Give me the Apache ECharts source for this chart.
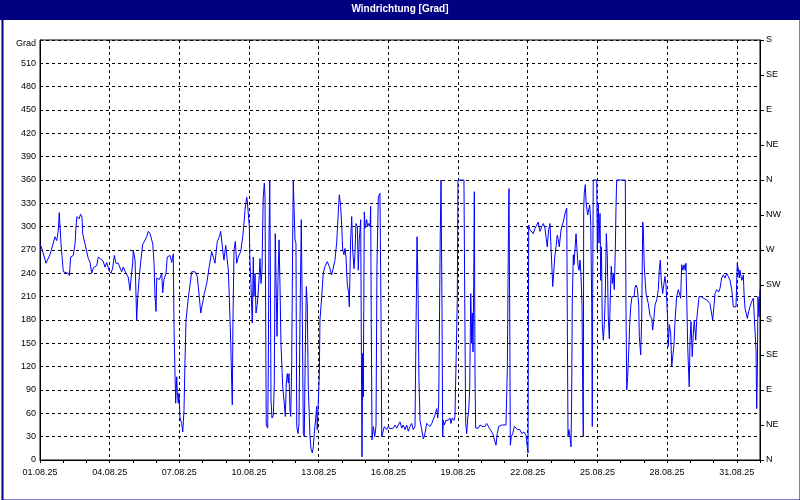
<!DOCTYPE html>
<html>
<head>
<meta charset="utf-8">
<script src="https://cdn.jsdelivr.net/npm/echarts@6/dist/echarts.min.js"></script>
<style>
html,body{margin:0;padding:0;background:#fff;}
#chart{width:800px;height:500px;}
</style>
</head>
<body>
<div id="chart"></div>
<script>
// Hours since 01.08.25 00:00
const hours = [
0,2.4,6.2,10.3,13.7,15.5,17.3,18.9,19.9,20.7,
21.7,22.7,24.1,29.2,30.3,31.7,34.4,36.2,37.2,38.2,
40.3,41.9,43.4,44.1,46.5,49.9,51.7,53.4,55.1,58.6,
60.2,62,65.1,67.2,68.9,71.6,73.4,75.1,76.8,78.5,
80.9,82.7,84.4,86.1,88.9,91.2,93,94,95.8,96.4,
98.2,99.2,99.9,101,102.6,104.1,106.1,110.3,111.9,113.7,
116.5,117.8,118.8,119.9,120.6,123.3,125.8,126.8,128.1,130.2,
131.5,134.3,136.1,137.7,138.5,139.5,140.2,141.3,141.9,142.9,
143.6,144.7,146.4,147.5,148.8,149.8,150.9,153.2,155,156.8,
160.2,162.5,164.6,166.1,167.4,169.8,172.3,174.9,177.4,179.1,
180.8,183.2,185.3,186.7,188.8,190.1,191.9,194.6,195.6,197.1,
198.1,198.7,199.4,200.5,201.8,203.3,204.9,207.4,209.5,211.1,
211.8,213.6,214.2,216.3,217,218,218.8,219.4,220.4,221.1,
222.2,223.2,224.5,226.3,227.3,228.4,229.4,230.1,230.7,231.8,
232.5,233.2,233.8,235.3,235.9,236.6,237.4,238,238.7,239.7,
241.1,242.1,243.1,244.2,244.9,245.9,247,248,249,250.1,
250.8,252.4,253.5,254.5,255.5,256.6,257.3,258.3,259.1,260.1,
261.1,261.7,262.8,263.5,264.5,265.3,266.6,267.6,268.7,270,
271,272.1,273.1,274.1,275.2,276.2,277.2,278.3,279,280,
281.4,282.4,283.4,284.9,285.9,286.5,288,288.6,289.3,291.1,
292.7,294.5,296.9,298.9,301.4,303.1,304.8,306.6,308.2,309.3,
310.7,311.8,312.8,314.1,315.2,316.2,317.5,319,319.6,321,
322.1,323.1,324.5,325.5,326.5,327.9,328.9,329.9,331.4,332,
332.7,333.5,334.1,335.1,336.1,337.6,338.6,339.7,341,341.7,
342.3,343.1,344.4,345.9,347.2,348.2,349.6,351.3,352.4,353.1,
354.7,355.8,358.2,359.9,361.7,363.4,365.1,366.8,368.6,370.2,
372,373.8,375.4,377.2,378.9,380.6,382.3,384.1,385.7,387.5,
388.5,389.6,390.6,391.6,392.7,394.4,396.1,397.8,399.6,401.2,
403,404.8,406.4,408.2,409.9,411,412,412.6,413.6,414.4,
415.1,415.4,416.1,416.7,417.8,419.5,421.9,423.7,424.7,426,
427.8,428.8,430.6,431.2,431.9,438.1,438.9,439.9,440.9,442,
443,444,445.1,446.1,446.7,447.4,448.2,448.8,449.5,450.2,
452.9,454.7,456.4,457.5,459.8,461.6,463.2,464.3,465.7,467.8,
469.4,471.2,472.5,474,475.3,477.1,478.7,481.5,482.9,483.9,
484.6,485.4,486,487,488.5,490.1,491.9,493.6,496,497.8,
500.1,502.2,503.5,504.3,505,506.3,508.1,509.7,511.5,513.3,
514.9,515.9,516.7,518.4,520.1,521.8,522.9,524.2,525.6,527,
528,529.1,529.8,530.8,531.9,533.2,534.5,535.6,536.6,538.1,
539.1,540.7,542.5,544.3,544.9,545.6,546.6,547.7,548.7,549.4,
550,551.1,551.8,552.8,553.9,554.9,555.9,557,558,559,
560.1,560.8,561.4,561.8,562.4,563.5,564.2,565.2,565.9,567,
568,569.1,570.1,570.4,570.7,571.1,571.7,575.3,575.9,576.9,
577.6,578.7,579.4,580.2,581,582.1,583.1,584.1,585.2,586.2,
587.2,588.3,589.3,590.3,591.4,592.4,593.4,594.5,595.2,595.9,
604.8,605.5,606.3,607.3,608.3,609.4,610.4,611.7,613.8,614.8,
615.9,617.2,618.7,619.3,620.7,621.8,622.8,623.4,624.4,626.2,
628.6,630.3,632.1,633.1,634.5,635.5,637.3,638.9,639.9,641,
642,643.4,644.8,645.8,646.9,647.9,648.6,649.2,650.3,651.7,
652.8,654.4,655.1,656.2,657.9,659.6,661.3,662,663.1,664.4,
665.5,666.8,667.5,668.3,669.3,670.3,670.9,671.7,672.7,674,
675.1,676.1,677.6,678.6,679.6,681,682,683.3,685.4,687.2,
688.9,690.6,692.3,694.1,695.1,696.5,697.5,699.2,701.3,702.7,
704.4,706.1,707.8,709.6,711.2,713,714.8,715.8,716.4,717.4,
719.2,720.5,721.6,722.6,723.3,725.1,726.1,726.8,727.5,728.5,
729.5,730.9,732.3,733.7,735.4,737.1,738.1,739.1,739.9,740.6,
741.2,741.9,743,744
];
// Wind direction in degrees
const direction = [
278,270,253,264,279,287,282,295,318,300,
278,263,242,240,237,261,263,278,300,313,
310,316,312,291,278,259,254,240,247,250,
261,263,256,248,254,243,240,247,263,253,
253,247,242,248,240,235,218,232,253,270,
257,255,180,210,236,255,277,287,294,291,
278,254,212,191,234,232,240,215,232,240,
261,263,254,265,169,111,73,107,86,73,
86,54,47,36,64,126,180,208,225,242,
242,236,210,189,191,214,227,249,268,261,
253,281,287,294,270,257,276,244,210,150,
99,71,180,270,281,253,261,268,287,309,
321,338,333,300,253,227,193,176,261,210,
240,189,200,231,259,227,244,300,338,356,
338,189,45,41,116,281,360,253,77,54,
57,99,291,210,159,231,283,223,150,116,
94,73,56,99,111,99,111,64,56,124,
283,360,360,283,279,43,34,47,184,309,
193,34,30,137,223,201,94,56,30,15,
9,17,34,54,69,39,39,107,180,210,
240,249,255,249,238,240,257,280,317,341,
326,300,270,264,272,261,227,214,197,283,
313,270,246,266,304,300,244,283,309,163,
4,137,81,319,298,309,300,304,300,326,
174,26,43,30,44,249,338,343,184,30,
30,43,39,43,40,41,41,45,41,43,
49,41,45,39,45,37,43,47,39,43,
163,287,223,103,51,51,27,34,47,49,
43,47,45,58,66,54,73,154,291,360,
360,193,30,51,45,51,51,54,47,54,
51,56,54,206,360,360,206,47,34,54,
64,90,214,150,189,139,227,345,111,41,
41,45,47,43,43,47,47,41,43,34,
34,19,34,43,43,45,44,45,116,270,
349,184,19,30,34,43,41,39,39,34,
36,32,17,9,302,296,298,291,298,302,
306,298,294,300,304,298,287,274,296,304,
274,244,223,240,261,274,289,283,274,293,
300,306,317,324,178,30,39,30,17,81,
201,264,251,270,291,270,251,244,257,240,
197,88,30,321,343,354,332,332,315,315,
328,306,201,114,43,214,360,360,270,330,
279,317,231,274,176,154,174,210,291,263,
184,156,208,249,227,240,219,270,326,360,
360,201,90,107,139,176,197,210,210,221,
225,221,199,159,135,184,306,298,249,214,
201,186,182,167,184,199,206,219,244,257,
231,214,227,236,225,227,180,146,174,163,
120,120,148,180,210,219,219,208,251,244,
251,244,253,208,146,111,94,154,178,133,
163,180,154,180,193,210,212,210,208,206,
206,206,201,199,180,199,214,219,216,221,
234,238,234,240,236,231,219,206,197,195,
197,253,246,234,244,231,234,238,214,195,
195,182,191,197,204,208,206,210,141,66,
107,210,184,219
];
const compass = ['N','NE','E','SE','S','SW','W','NW'];
const titleText = 'Windrichtung [Grad]';
const unitLabel = 'Grad';

const FONT = "'Liberation Sans', Arial, sans-serif";
const data = hours.map((h, i) => [h, direction[i]]);

function dateLabel(v) {
  const d = new Date(2025, 7, 1, 0, 0, 0);
  d.setHours(d.getHours() + Math.round(v));
  const dd = String(d.getDate()).padStart(2, '0');
  const mm = String(d.getMonth() + 1).padStart(2, '0');
  const yy = String(d.getFullYear()).slice(2);
  return dd + '.' + mm + '.' + yy;
}

const chart = echarts.init(document.getElementById('chart'), null, {renderer: 'canvas'});
chart.setOption({
  animation: false,
  backgroundColor: '#ffffff',
  textStyle: {fontFamily: FONT},
  graphic: [
    {type: 'rect', left: 0, top: 0, shape: {width: 800, height: 20}, style: {fill: '#000080'}, silent: true, z: 10},
    {type: 'text', left: 'center', top: 4, style: {text: titleText, fill: '#ffffff', font: 'bold 10px ' + FONT}, silent: true, z: 11},
    {type: 'rect', left: 0, top: 0, shape: {x: 1, y: 1, width: 798, height: 498}, style: {fill: 'none', stroke: '#000080', lineWidth: 2}, silent: true, z: 12}
  ],
  grid: {left: 40, right: 40, top: 40, bottom: 40, show: true, borderColor: '#000', borderWidth: 1, backgroundColor: '#fff', containLabel: false},
  xAxis: {
    type: 'value', min: 0, max: 744, interval: 72,
    axisLine: {show: true, lineStyle: {color: '#000', width: 1}},
    axisTick: {show: true, length: 3, lineStyle: {color: '#000'}},
    minorTick: {show: true, splitNumber: 3, length: 3, lineStyle: {color: '#000'}},
    minorSplitLine: {show: false},
    axisLabel: {formatter: dateLabel, color: '#000', fontSize: 9, fontFamily: FONT, margin: 8, showMaxLabel: false},
    splitLine: {show: true, lineStyle: {color: '#000', width: 1, type: [3, 3]}}
  },
  yAxis: [
    {
      type: 'value', min: 0, max: 540, interval: 30, position: 'left',
      axisLine: {show: true, lineStyle: {color: '#000'}},
      axisTick: {show: false},
      axisLabel: {
        formatter: v => v === 540 ? '{u|' + unitLabel + '}' : String(v),
        color: '#000', fontSize: 9, fontFamily: FONT, margin: 4,
        rich: {u: {fontSize: 9, fontFamily: FONT, color: '#000', padding: [8, 0, 0, 0]}}
      },
      splitLine: {show: true, lineStyle: {color: '#000', width: 1, type: [3, 3]}}
    },
    {
      type: 'value', min: 0, max: 540, interval: 45, position: 'right',
      axisLine: {show: true, lineStyle: {color: '#000'}},
      axisTick: {show: true, length: 4, lineStyle: {color: '#000'}},
      axisLabel: {formatter: v => compass[Math.round(v / 45) % 8], color: '#000', fontSize: 9, fontFamily: FONT, margin: 6},
      splitLine: {show: false}
    }
  ],
  series: [{
    type: 'line', data: data, yAxisIndex: 0, showSymbol: false, symbol: 'none',
    lineStyle: {color: '#0000ff', width: 1}, smooth: false, clip: true, z: 5
  }]
});
</script>
</body>
</html>
